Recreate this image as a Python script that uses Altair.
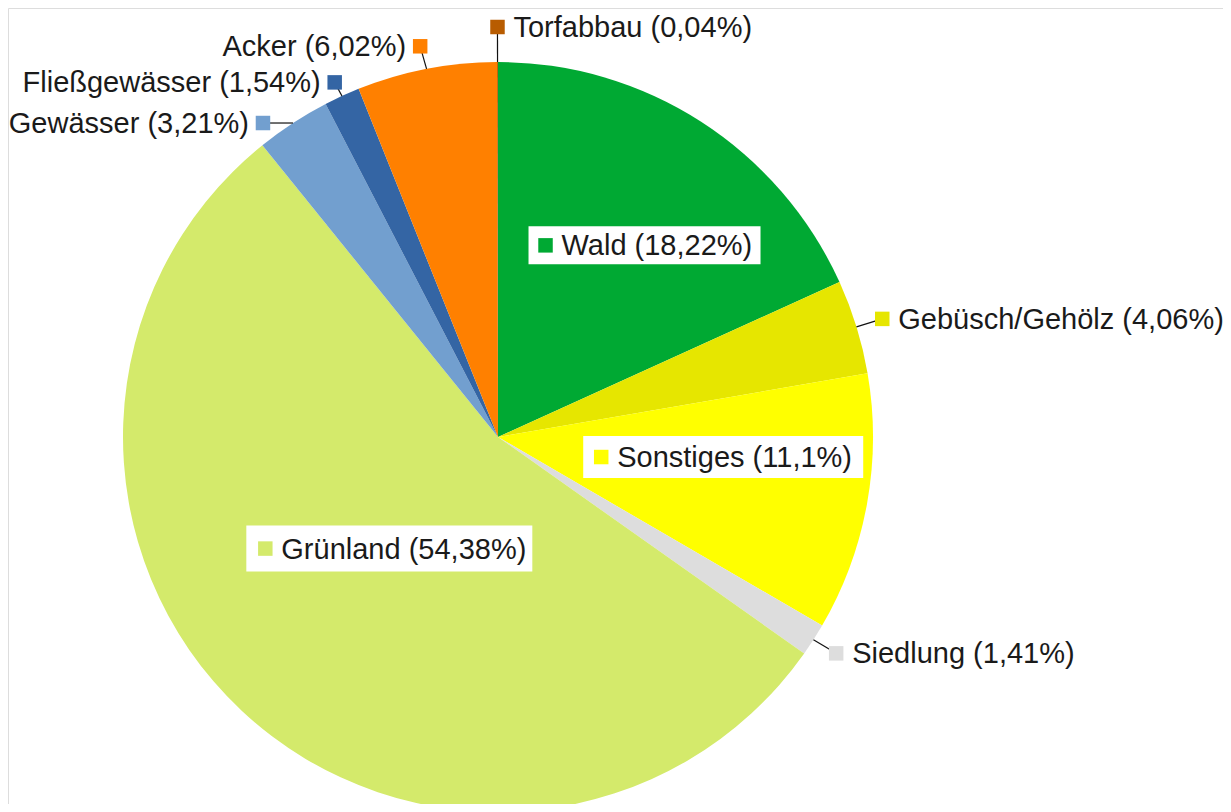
import altair as alt
import pandas as pd

# ---- data (clockwise from 12 o'clock) ----
categories = ["Wald", "Gebüsch/Gehölz", "Sonstiges", "Siedlung", "Grünland",
              "Gewässer", "Fließgewässer", "Acker", "Torfabbau"]
shares = [18.22, 4.06, 11.1, 1.41, 54.38, 3.21, 1.54, 6.02, 0.04]
colors = ["#00A933", "#E6E600", "#FFFF00", "#DDDDDD", "#D4EA6B",
          "#729FCF", "#3465A4", "#FF8000", "#B85C00"]

labels = [f"{c} ({str(v).replace('.', ',')}%)" for c, v in zip(categories, shares)]
df = pd.DataFrame({"cat": categories, "share": shares,
                   "order": list(range(len(categories))), "label": labels})

# ---- layout ----
W, H = 1215, 796
CX, CY, R = 490, 429, 375
FONT = "Liberation Sans"
FS = 29
MARK = 210

# per label: polar radius of marker along mid angle, marker offset, side, box
layout = {
    "Wald":           dict(r=228, ox=-76, oy=0,  side="in",  box=(17, 215, 19)),
    "Gebüsch/Gehölz": dict(r=402, ox=0,   oy=0,  side="right"),
    "Sonstiges":      dict(r=113, ox=-8,  oy=0,  side="in",  box=(18, 262, 21)),
    "Siedlung":       dict(r=402, ox=0,   oy=-1, side="right"),
    "Grünland":       dict(r=153, ox=-128, oy=0, side="in",  box=(19, 267, 23)),
    "Gewässer":       dict(r=375, ox=-30, oy=0,  side="left"),
    "Fließgewässer":  dict(r=390, ox=-1,  oy=0,  side="left"),
    "Acker":          dict(r=398, ox=-2,  oy=0,  side="left"),
    "Torfabbau":      dict(r=410, ox=0,   oy=0,  side="right"),
}

color_scale = alt.Scale(domain=categories, range=colors)
base = alt.Chart(df)

pie = base.mark_arc(outerRadius=R).encode(
    theta=alt.Theta("share:Q", stack=True),
    order=alt.Order("order:Q"),
    color=alt.Color("cat:N", scale=color_scale, legend=None),
    x=alt.value(CX), y=alt.value(CY),
)

ang = (base
       .transform_window(cum="sum(share)", sort=[alt.SortField("order")], frame=[None, 0])
       .transform_joinaggregate(total="sum(share)")
       .transform_calculate(mid="2*PI*(datum.cum - datum.share/2)/datum.total"))

def px(f):
    return alt.X(f"{f}:Q", scale=None, axis=None)

def py(f):
    return alt.Y(f"{f}:Q", scale=None, axis=None)

layers = [pie]
for cat, L in layout.items():
    sub = ang.transform_filter(alt.datum.cat == cat).transform_calculate(
        mx=f"{CX} + {L['r']}*sin(datum.mid) + {L['ox']}",
        my=f"{CY} - {L['r']}*cos(datum.mid) + {L['oy']}",
        ex=f"{CX} + {R}*sin(datum.mid)",
        ey=f"{CY} - {R}*cos(datum.mid)",
    )
    if L["side"] == "in":
        bl, br, hh = L["box"]
        box = sub.transform_calculate(
            bx1=f"datum.mx - {bl}", bx2=f"datum.mx + {br}",
            by1=f"datum.my - {hh}", by2=f"datum.my + {hh}",
        ).mark_rect(color="white").encode(
            x=px("bx1"), x2=alt.X2("bx2:Q"), y=py("by1"), y2=alt.Y2("by2:Q"))
        layers.append(box)
    else:
        lead = sub.mark_rule(color="#111111", strokeWidth=1.2).encode(
            x=px("ex"), y=py("ey"), x2=alt.X2("mx:Q"), y2=alt.Y2("my:Q"))
        layers.append(lead)
    marker = sub.mark_point(shape="square", filled=True, size=MARK, opacity=1).encode(
        x=px("mx"), y=py("my"),
        color=alt.Color("cat:N", scale=color_scale, legend=None))
    layers.append(marker)
    if L["side"] == "left":
        align, dx = "right", -14
    else:
        align, dx = "left", 16
    txt = sub.mark_text(align=align, baseline="middle", dx=dx, dy=1,
                        font=FONT, fontSize=FS, color="#1a1a1a").encode(
        x=px("mx"), y=py("my"), text="label:N")
    layers.append(txt)

chart = alt.layer(*layers).properties(
    width=W, height=H, padding=0, autosize=alt.AutoSizeParams(type="none")
).configure_view(stroke=None).configure_axis(
    domain=False, ticks=False, labels=False, grid=False
).configure(background="white")

chart.save("out.html", embed_options={"renderer": "svg", "actions": False})
